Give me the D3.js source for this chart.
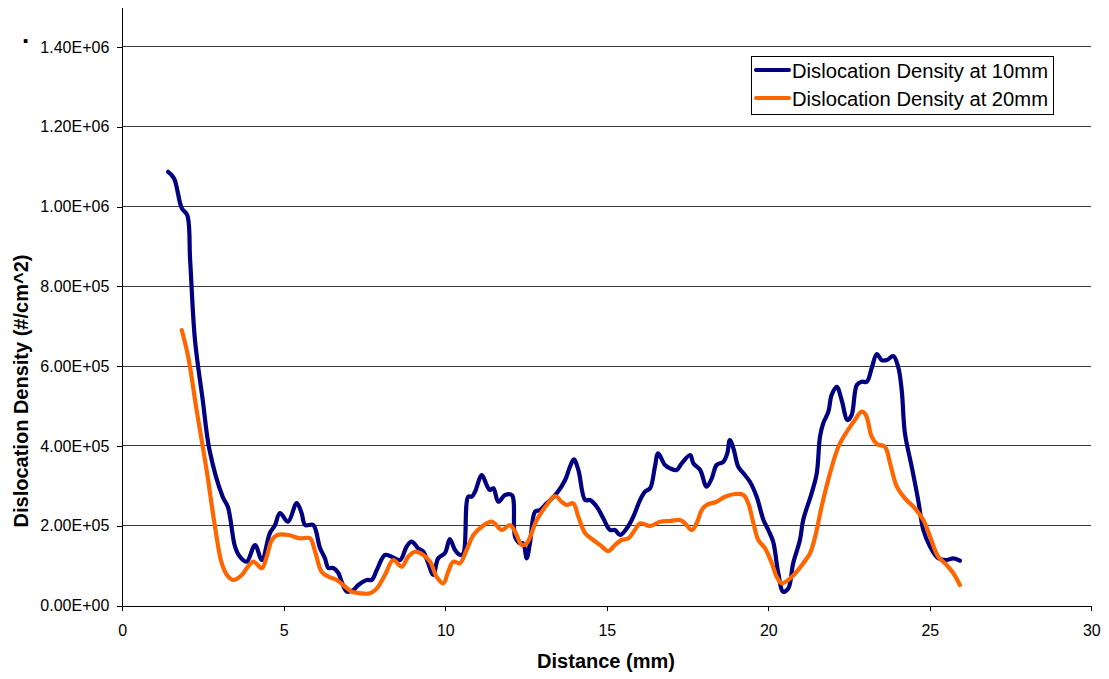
<!DOCTYPE html>
<html>
<head>
<meta charset="utf-8">
<script src="https://cdn.jsdelivr.net/npm/d3@7"></script>
<style>
  html, body { margin: 0; padding: 0; background: #fff; }
  svg { display: block; font-family: "Liberation Sans", Arial, sans-serif; }
</style>
</head>
<body>
<svg id="chart" width="1109" height="679"></svg>
<script>
// Dislocation density profile along the sample, measured at 10 mm and 20 mm
const seriesNames = ["Dislocation Density at 10mm", "Dislocation Density at 20mm"];
const seriesColors = ["#000080", "#FF6600"];

const xTicks = [0, 5, 10, 15, 20, 25, 30];
const yTicks = [0, 200000, 400000, 600000, 800000, 1000000, 1200000, 1400000];

// distance (mm) and density (#/cm^2) at 10 mm
const distance10 = [1.42, 1.60, 1.84, 2.01, 2.10, 2.25, 2.49, 2.70, 3.11, 3.27, 3.49, 3.64, 3.85, 4.11, 4.32,
  4.57, 4.73, 4.88, 5.13, 5.40, 5.55, 5.66, 5.91, 6.12, 6.27, 6.38, 6.53, 6.69, 6.79, 6.95, 7.15, 7.31, 7.57,
  7.72, 7.88, 8.13, 8.34, 8.60, 8.80, 8.96, 9.16, 9.32, 9.47, 9.63, 9.78, 9.99, 10.14, 10.30, 10.46, 10.56,
  10.71, 10.82, 10.92, 11.13, 11.28, 11.38, 11.49, 11.64, 11.85, 12.06, 12.16, 12.31, 12.41, 12.52, 12.62,
  12.78, 12.93, 13.14, 13.45, 13.71, 13.86, 13.98, 14.12, 14.33, 14.48, 14.69, 14.89, 15.10, 15.25, 15.41,
  15.62, 15.82, 16.03, 16.18, 16.34, 16.49, 16.59, 16.80, 16.96, 17.16, 17.32, 17.58, 17.68, 17.89, 18.09,
  18.25, 18.40, 18.61, 18.73, 18.81, 18.92, 19.07, 19.23, 19.43, 19.64, 19.85, 20.00, 20.15, 20.31, 20.46,
  20.62, 20.77, 20.98, 21.08, 21.34, 21.50, 21.60, 21.70, 21.86, 21.96, 22.12, 22.27, 22.45, 22.58, 22.74,
  22.89, 23.05, 23.20, 23.36, 23.51, 23.67, 23.87, 24.02, 24.13, 24.23, 24.44, 24.64, 24.80, 25.01, 25.26,
  25.52, 25.73, 25.93];
const density10 = [1087000, 1071000, 996000, 978600, 865800, 665300, 515000, 389700, 271900, 246800, 147400,
  122300, 109800, 151600, 114000, 181700, 201700, 231800, 210000, 256900, 231800, 201700, 201700, 144100,
  119000, 94000, 94000, 81400, 59600, 34600, 38800, 51400, 63900, 63900, 89000, 126600, 122300, 114000,
  147400, 159900, 143300, 134800, 105800, 76400, 118300, 131600, 166600, 139100, 126600, 130800, 272700,
  272700, 285200, 327000, 302000, 289400, 293700, 260100, 276900, 276900, 172400, 155900, 155900, 118300,
  155900, 235100, 239300, 256100, 281200, 314500, 347800, 366400, 339600, 264400, 264400, 247600, 218500,
  189200, 189200, 176700, 193500, 222500, 264400, 285200, 293700, 347800, 381400, 352100, 343800, 339600,
  356300, 377200, 356300, 339600, 297700, 318800, 352100, 360400, 381400, 414700, 393900, 347800, 331300,
  310200, 272700, 214300, 189200, 159900, 80700, 34600, 43100, 105800, 164100, 214300, 281200, 331300,
  423000, 456600, 485700, 527500, 548300, 515000, 464900, 477400, 552600, 560800, 560800, 594400, 630300,
  615200, 615200, 625200, 598400, 540000, 431500, 347800, 264400, 189200, 147400, 118300, 114000, 118300,
  112300];

// distance (mm) and density (#/cm^2) at 20 mm
const distance20 = [1.84, 2.04, 2.30, 2.61, 2.87, 3.08, 3.28, 3.44, 3.70, 3.85, 4.06, 4.32, 4.47, 4.63, 4.80,
  5.14, 5.50, 5.81, 5.97, 6.17, 6.38, 6.64, 6.84, 7.10, 7.36, 7.67, 7.88, 8.13, 8.39, 8.65, 8.85, 9.06, 9.32,
  9.53, 9.73, 9.94, 10.09, 10.25, 10.45, 10.66, 10.87, 11.13, 11.44, 11.75, 12.00, 12.16, 12.37, 12.52, 12.83,
  13.14, 13.40, 13.60, 13.76, 13.96, 14.12, 14.33, 14.58, 14.79, 15.05, 15.25, 15.46, 15.67, 15.87, 16.03,
  16.34, 16.65, 16.96, 17.27, 17.42, 17.63, 17.78, 17.94, 18.09, 18.40, 18.66, 18.97, 19.23, 19.38, 19.54,
  19.69, 19.90, 20.11, 20.26, 20.41, 20.62, 20.88, 21.08, 21.29, 21.45, 21.65, 21.91, 22.17, 22.43, 22.68,
  22.89, 23.02, 23.20, 23.36, 23.61, 23.77, 23.98, 24.23, 24.54, 24.80, 25.01, 25.26, 25.52, 25.73, 25.93];
const density20 = [690400, 623500, 489900, 339600, 197500, 105800, 72200, 63900, 76400, 93200, 109800, 93200,
  122300, 164100, 176700, 176700, 168400, 168400, 134800, 84700, 72200, 63900, 51400, 34600, 30600, 30600,
  43100, 76400, 114000, 97200, 122300, 134800, 126600, 109800, 72200, 55600, 84700, 109800, 105800, 139100,
  176700, 197500, 210000, 189200, 201700, 184900, 151600, 155900, 214300, 251900, 274400, 260100, 251900,
  256100, 222500, 180900, 164100, 151600, 136600, 151600, 164100, 168400, 189200, 206000, 199200, 210000,
  211800, 214300, 206000, 189200, 206000, 239300, 251900, 260100, 272700, 279400, 276900, 256100, 206000,
  164100, 143300, 105800, 72200, 55600, 63900, 84700, 105800, 130800, 172400, 247600, 331300, 397900, 435500,
  464900, 485700, 477400, 423000, 404700, 397900, 356300, 297700, 268600, 243600, 214300, 172400, 122300,
  101500, 80700, 51400];

const svg = d3.select("#chart");

const x = d3.scaleLinear().domain([0, 30]).range([122.3, 1091.3]);
const y = d3.scaleLinear().domain([0, 1500000]).range([605.5, 7]);

function sci(v) {
  if (v === 0) return "0.00E+00";
  const e = Math.floor(Math.log10(v));
  const m = v / Math.pow(10, e);
  return m.toFixed(2) + "E" + (e < 0 ? "-" : "+") + String(Math.abs(e)).padStart(2, "0");
}

// horizontal gridlines
svg.append("g")
  .selectAll("line")
  .data(yTicks.filter(d => d > 0))
  .join("line")
  .attr("x1", x(0)).attr("x2", x(30))
  .attr("y1", d => y(d)).attr("y2", d => y(d))
  .attr("stroke", "#3a3a3a")
  .attr("stroke-width", 1)
  .attr("shape-rendering", "crispEdges");

// y axis
const yAxis = d3.axisLeft(y).tickValues(yTicks).tickFormat(sci).tickSize(5).tickSizeOuter(0);
const gy = svg.append("g").attr("transform", `translate(${x(0)},0)`).call(yAxis);
gy.select(".domain").attr("stroke", "#000").attr("shape-rendering", "crispEdges");
gy.selectAll(".tick line").attr("stroke", "#000").attr("shape-rendering", "crispEdges");
gy.selectAll(".tick text")
  .attr("x", -13)
  .attr("fill", "#000")
  .style("font-size", "16px")
  .style("font-family", "'Liberation Sans', Arial, sans-serif");

// x axis
const xAxis = d3.axisBottom(x).tickValues(xTicks).tickFormat(d3.format("d")).tickSize(5).tickSizeOuter(0);
const gx = svg.append("g").attr("transform", `translate(0,${y(0)})`).call(xAxis);
gx.select(".domain").attr("stroke", "#000").attr("shape-rendering", "crispEdges");
gx.selectAll(".tick line").attr("stroke", "#000").attr("shape-rendering", "crispEdges");
gx.selectAll(".tick text")
  .attr("y", 19)
  .attr("fill", "#000")
  .style("font-size", "16px")
  .style("font-family", "'Liberation Sans', Arial, sans-serif");

// axis titles
svg.append("text")
  .attr("x", 606).attr("y", 668)
  .attr("text-anchor", "middle")
  .style("font-size", "20px").style("font-weight", "bold")
  .text("Distance (mm)");

svg.append("text")
  .attr("transform", "translate(28,391) rotate(-90)")
  .attr("text-anchor", "middle")
  .style("font-size", "20px").style("font-weight", "bold")
  .text("Dislocation Density (#/cm^2)");

svg.append("text")
  .attr("x", 22).attr("y", 43)
  .style("font-size", "26px").style("font-weight", "bold")
  .text(".");

// series lines
const line = d3.line()
  .x(d => x(d[0]))
  .y(d => y(d[1]))
  .curve(d3.curveCatmullRom.alpha(0.5));

const series = [
  d3.zip(distance10, density10),
  d3.zip(distance20, density20)
];

svg.append("g")
  .selectAll("path")
  .data(series)
  .join("path")
  .attr("d", line)
  .attr("fill", "none")
  .attr("stroke", (d, i) => seriesColors[i])
  .attr("stroke-width", 4.2)
  .attr("stroke-linejoin", "round")
  .attr("stroke-linecap", "round");

// legend
const legend = svg.append("g");
legend.append("rect")
  .attr("x", 751.5).attr("y", 56.5)
  .attr("width", 302).attr("height", 58)
  .attr("fill", "#fff").attr("stroke", "#000").attr("stroke-width", 1);

const items = legend.selectAll("g.item")
  .data(seriesNames)
  .join("g")
  .attr("class", "item")
  .attr("transform", (d, i) => `translate(0,${70 + i * 28})`);

items.append("line")
  .attr("x1", 756).attr("x2", 789)
  .attr("y1", 0).attr("y2", 0)
  .attr("stroke", (d, i) => seriesColors[i])
  .attr("stroke-width", 4)
  .attr("stroke-linecap", "round");

items.append("text")
  .attr("x", 792).attr("y", 8)
  .style("font-size", "20px")
  .attr("textLength", 256)
  .attr("lengthAdjust", "spacingAndGlyphs")
  .text(d => d);
</script>
</body>
</html>
